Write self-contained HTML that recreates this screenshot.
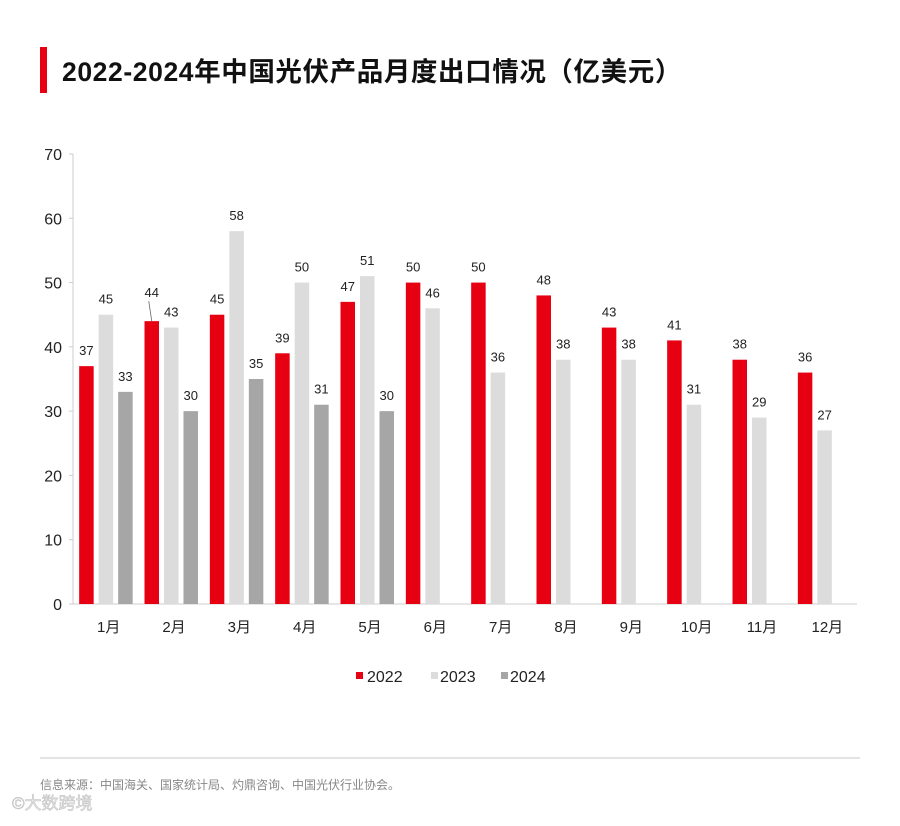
<!DOCTYPE html>
<html><head><meta charset="utf-8">
<style>
html,body{margin:0;padding:0;background:#fff;}
body{width:900px;height:821px;overflow:hidden;font-family:"Liberation Sans","Noto Sans CJK SC",sans-serif;}
</style></head>
<body>
<svg id="chart" width="900" height="821" xmlns="http://www.w3.org/2000/svg" font-family="Liberation Sans, Noto Sans CJK SC, sans-serif">
<rect x="40" y="47" width="7" height="46" fill="#e60012"/>
<text x="62" y="81" font-size="26.5" letter-spacing="0.6" font-weight="bold" fill="#111" font-family="Liberation Sans, Noto Sans CJK SC, sans-serif">2022-2024年中国光伏产品月度出口情况（亿美元）</text>
<g id="plot"></g>
<g>
 <rect x="356" y="672" width="7" height="7" fill="#e60012"/>
 <text x="367" y="682" font-size="16" fill="#222">2022</text>
 <rect x="431" y="672" width="7" height="7" fill="#dcdcdc"/>
 <text x="440" y="682" font-size="16" fill="#222">2023</text>
 <rect x="501" y="672" width="7" height="7" fill="#a6a6a6"/>
 <text x="510" y="682" font-size="16" fill="#222">2024</text>
</g>
<line x1="40" y1="758" x2="860" y2="758" stroke="#e3e3e3" stroke-width="2"/>
<text x="40" y="789" font-size="12" fill="#888">信息来源：中国海关、国家统计局、灼鼎咨询、中国光伏行业协会。</text>
<text x="12" y="809" font-size="17" fill="#e8e8e8" stroke="#bbb" stroke-width="0.5">©大数跨境</text>
</svg>
<script>
const categories=["1月","2月","3月","4月","5月","6月","7月","8月","9月","10月","11月","12月"];
const s2022=[37,44,45,39,47,50,50,48,43,41,38,36];
const s2023=[45,43,58,50,51,46,36,38,38,31,29,27];
const s2024=[33,30,35,31,30,null,null,null,null,null,null,null];
const yTicks=[0,10,20,30,40,50,60,70];
const NS="http://www.w3.org/2000/svg";
const plot=document.getElementById('plot');
const X0=73,X1=857,Y0=604,Y70=154,YMAX=70;
const gw=(X1-X0)/categories.length;
function y(v){return Y0-(v/YMAX)*(Y0-Y70);}
function gx(i){return X0+gw*(i+0.5);}
const bw=14.5,step=19.5;
function mk(tag,attrs){const e=document.createElementNS(NS,tag);for(const k in attrs)e.setAttribute(k,attrs[k]);plot.appendChild(e);return e;}
let ax=mk('line',{x1:X0,y1:Y70,x2:X0,y2:Y0,stroke:'#ccc','stroke-width':1});


let bx=mk('line',{x1:X0,y1:Y0,x2:X1,y2:Y0,stroke:'#ccc','stroke-width':1});


yTicks.forEach(t=>{
 let tk=mk('line',{x1:X0-4,y1:y(t),x2:X0,y2:y(t),stroke:'#ccc'});
 
 
 let tl=mk('text',{x:62,y:y(t)+6,'font-size':16,fill:'#222','text-anchor':'end'});
 tl.textContent=t;
 
 
});
const series=[[s2022,'#e60012','2022'],[s2023,'#dcdcdc','2023'],[s2024,'#a6a6a6','2024']];
categories.forEach((c,i)=>{
 const cx=gx(i);
 let xl=mk('text',{x:cx+3,y:632,'font-size':15,fill:'#222','text-anchor':'middle'});
 xl.textContent=c;
 
 
 series.forEach((s,k)=>{
  const v=s[0][i]; if(v==null) return;
  const left=cx-26.5+k*step;
  let r=mk('rect',{x:left,y:y(v),width:bw,height:Y0-y(v),fill:s[1]});
  
  
  let ly=y(v)-11;
  if(k===0&&i===1){ly=y(v)-24;}
  let lb=mk('text',{x:left+bw/2,y:ly,'font-size':13,fill:'#222','text-anchor':'middle'});
  lb.textContent=v;
  
  
  if(k===0&&i===1){
   let ld=mk('line',{x1:left+bw/2-3,y1:y(v)-20,x2:left+bw/2,y2:y(v),stroke:'#666','stroke-width':0.8});
   
   
  }
 });
});
</script>
</body></html>
